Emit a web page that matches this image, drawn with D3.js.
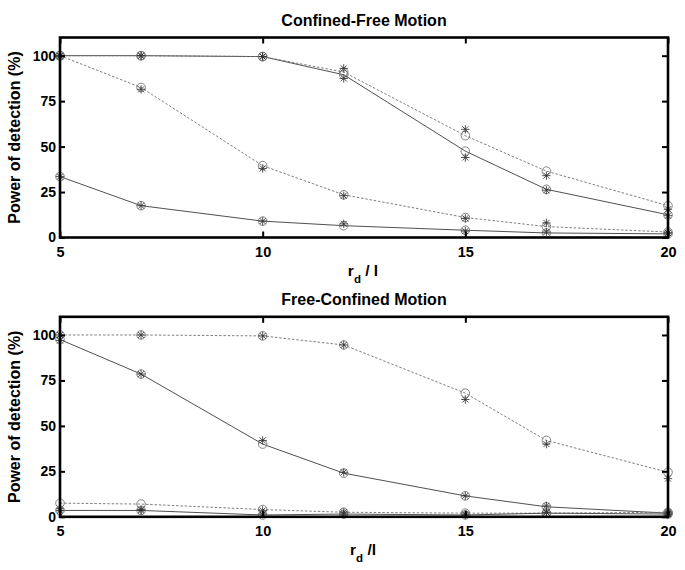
<!DOCTYPE html>
<html><head><meta charset="utf-8">
<script src="https://cdn.jsdelivr.net/npm/d3@7"></script>
<style>body{margin:0;background:#fff}svg{display:block;font-family:"Liberation Sans",Arial,sans-serif}</style>
</head><body><svg id="c" width="685" height="570"></svg>
<script>
// ---- data ----
const xValues = [5, 7, 10, 12, 15, 17, 20];
const xTicks = [5, 10, 15, 20];
const yTicks = [0, 25, 50, 75, 100];

// Confined-Free Motion
const cfSolidHighO = [100, 100, 99.5, 89.5, 47.5, 26.5, 12.5];
const cfSolidHighS = [100, 100, 99.5, 87.5, 44, 26, 12];
const cfDashHighO  = [100, 100, 99.5, 91, 56, 36.5, 17.5];
const cfDashHighS  = [100, 100, 99.5, 93, 59.5, 34, 15.5];
const cfDashMidO   = [100, 82.5, 39.5, 23.5, 11, 6, 3];
const cfDashMidS   = [99.5, 81.5, 38, 23, 10.5, 8, 2.5];
const cfSolidLowO  = [33.5, 17.5, 9, 6.5, 4, 2.5, 2];
const cfSolidLowS  = [33.5, 17.5, 9, 7.5, 3.5, 3, 2.5];

// Free-Confined Motion
const fcDashHighO  = [100, 100, 99.5, 94.5, 68, 42, 24.5];
const fcDashHighS  = [100, 100, 99.5, 94.5, 64.5, 40, 21];
const fcSolidMidO  = [97.5, 78.5, 40, 24, 11.5, 5.5, 2];
const fcSolidMidS  = [97, 78.5, 42, 24.5, 11.5, 6, 2.5];
const fcDashLowO   = [7.5, 7, 4, 2.5, 2, 2, 2.5];
const fcDashLowS   = [4.5, 4, 3.5, 2.5, 1.5, 2.5, 2];
const fcSolidLowO  = [3.5, 3.5, 1, 1.5, 1, 2, 1.5];
const fcSolidLowS  = [3.5, 3.5, 1.5, 1.5, 1, 2.5, 1.5];

const panels = [
  { title: "Confined-Free Motion", xl: ["r", "d", " / l"], top: 37.5, bottom: 237.5,
    series: [
      { v: cfSolidHighO, m: "o", dash: false, line: true }, { v: cfSolidHighS, m: "*", dash: false },
      { v: cfDashHighO, m: "o", dash: true, line: true },  { v: cfDashHighS, m: "*", dash: true },
      { v: cfDashMidO, m: "o", dash: true, line: true },   { v: cfDashMidS, m: "*", dash: true },
      { v: cfSolidLowO, m: "o", dash: false, line: true }, { v: cfSolidLowS, m: "*", dash: false } ] },
  { title: "Free-Confined Motion", xl: ["r", "d", " /l"], top: 316.8, bottom: 516.8,
    series: [
      { v: fcDashHighO, m: "o", dash: true, line: true },  { v: fcDashHighS, m: "*", dash: true },
      { v: fcSolidMidO, m: "o", dash: false, line: true }, { v: fcSolidMidS, m: "*", dash: false },
      { v: fcDashLowO, m: "o", dash: true, line: true },   { v: fcDashLowS, m: "*", dash: true },
      { v: fcSolidLowO, m: "o", dash: false, line: true }, { v: fcSolidLowS, m: "*", dash: false } ] }
];

const svg = d3.select("#c");
svg.append("rect").attr("width", 685).attr("height", 570).attr("fill", "#fff");
const left = 60, right = 668;
const x = d3.scaleLinear().domain([5, 20]).range([left, right]);

panels.forEach(p => {
  const y = d3.scaleLinear().domain([0, 110]).range([p.bottom, p.top]);
  const g = svg.append("g");

  // series lines
  const line = d3.line().x((d, i) => x(xValues[i])).y(d => y(d));
  p.series.filter(s => s.line).forEach(s => {
    g.append("path").attr("d", line(s.v)).attr("fill", "none")
      .attr("stroke", s.dash ? "#6f6f6f" : "#3c3c3c")
      .attr("stroke-width", 0.9)
      .attr("stroke-dasharray", s.dash ? "2.5,1.8" : null);
  });
  // markers
  p.series.forEach(s => {
    const mg = g.append("g");
    s.v.forEach((d, i) => {
      const cx = x(xValues[i]), cy = y(d);
      if (s.m === "o") {
        mg.append("circle").attr("cx", cx).attr("cy", cy).attr("r", 4.3)
          .attr("fill", "none").attr("stroke", "#777").attr("stroke-width", 0.9);
      } else {
        const r = 4.2, r2 = r * 0.72;
        const pth = `M${cx - r},${cy}L${cx + r},${cy}M${cx},${cy - r}L${cx},${cy + r}` +
          `M${cx - r2},${cy - r2}L${cx + r2},${cy + r2}M${cx - r2},${cy + r2}L${cx + r2},${cy - r2}`;
        mg.append("path").attr("d", pth).attr("stroke", "#333").attr("stroke-width", 0.85).attr("fill", "none");
      }
    });
  });

  // axes
  const ax = (sel) => { sel.select(".domain").remove(); sel.selectAll(".tick line").attr("stroke", "#000").attr("stroke-width", 2); };
  g.append("g").attr("transform", `translate(0,${p.bottom})`)
    .call(d3.axisBottom(x).tickValues(xTicks).tickSizeInner(-6).tickSizeOuter(0).tickPadding(9))
    .call(ax).call(s => s.selectAll("text").attr("font-size", 14.5).attr("font-weight", "bold").attr("fill", "#000"));
  g.append("g").attr("transform", `translate(0,${p.top})`)
    .call(d3.axisTop(x).tickValues(xTicks).tickSizeInner(-6).tickSizeOuter(0).tickFormat(""))
    .call(ax);
  g.append("g").attr("transform", `translate(${left},0)`)
    .call(d3.axisLeft(y).tickValues(yTicks).tickSizeInner(-5).tickSizeOuter(0).tickPadding(4))
    .call(ax).call(s => s.selectAll("text").attr("font-size", 14).attr("font-weight", "bold").attr("fill", "#000"));
  g.append("g").attr("transform", `translate(${right},0)`)
    .call(d3.axisRight(y).tickValues(yTicks).tickSizeInner(-6).tickSizeOuter(0).tickFormat(""))
    .call(ax);

  // frame
  g.append("rect").attr("x", left).attr("y", p.top).attr("width", right - left).attr("height", p.bottom - p.top)
    .attr("fill", "none").attr("stroke", "#000").attr("stroke-width", 2.6);

  // title
  g.append("text").attr("x", (left + right) / 2).attr("y", p.top - 12).attr("text-anchor", "middle")
    .attr("font-size", 16).attr("font-weight", "bold").text(p.title);

  // x label
  const xt = g.append("text").attr("x", 363).attr("y", p.bottom + 38.5).attr("text-anchor", "middle")
    .attr("font-size", 15.5).attr("font-weight", "bold");
  xt.append("tspan").text(p.xl[0]);
  xt.append("tspan").attr("font-size", 11.5).attr("dy", 7).text(p.xl[1]);
  xt.append("tspan").attr("dy", -7).text(p.xl[2]);

  // y label
  g.append("text").attr("transform", `translate(19.5,${(p.top + p.bottom) / 2}) rotate(-90)`)
    .attr("text-anchor", "middle").attr("font-size", 16).attr("font-weight", "bold")
    .text("Power of detection (%)");
});
</script></body></html>
